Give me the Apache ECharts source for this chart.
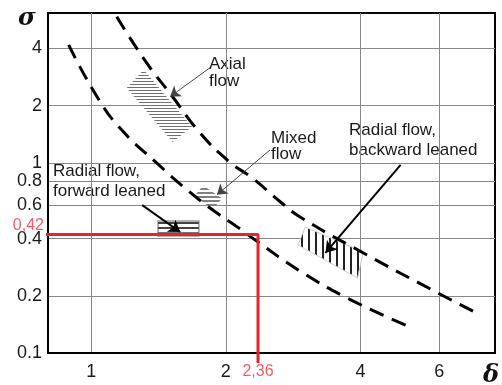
<!DOCTYPE html>
<html>
<head>
<meta charset="utf-8">
<script src="https://cdn.jsdelivr.net/npm/echarts@6/dist/echarts.min.js"></script>
<style>
  html, body { margin: 0; padding: 0; background: #fff; }
  #chart { width: 502px; height: 385px; }
</style>
</head>
<body>
<div id="chart"></div>
<script>
// tick values on both log axes
const xTicks = [1, 2, 4, 6]
const yTicks = [0.1, 0.2, 0.4, 0.6, 0.8, 1, 2, 4]

// dashed boundary curves [delta, sigma]
const upperBound = [[1.14, 5.87], [1.33, 3.36], [1.52, 2.23], [1.75, 1.44], [2.04, 1.01], [2.29, 0.834], [2.65, 0.623], [2.93, 0.52], [4.06, 0.336], [5.96, 0.207], [7.45, 0.158]]
const lowerBound = [[0.89, 4.18], [1.03, 2.23], [1.17, 1.49], [1.4, 1.0], [1.64, 0.72], [1.91, 0.545], [2.12, 0.461], [2.34, 0.389], [2.93, 0.27], [3.7, 0.197], [5.05, 0.14]]

// hatched zones (corners)
const axialZone = [[1.2, 2.48], [1.31, 3.09], [1.68, 1.55], [1.52, 1.29]]
const mixedZone = [[1.7, 0.67], [1.78, 0.76], [1.96, 0.65], [1.87, 0.57]]
const forwardZone = [[1.41, 0.495], [1.74, 0.495], [1.74, 0.413], [1.41, 0.413]]
const backwardZone = [[3.01, 0.46], [4.06, 0.34], [3.94, 0.248], [2.9, 0.37]]

// arrows from label to zone
const axialArrow = [[1.84, 3.16], [1.5, 2.23]]
const mixedArrow = [[2.51, 1.17], [1.91, 0.68]]
const forwardArrow = [[1.3, 0.6], [1.58, 0.433]]
const backwardArrow = [[4.92, 0.976], [3.34, 0.336]]

// design point
const markX = 2.36
const markY = 0.42

function stripes(w, h, color, vertical, lw) {
  const c = document.createElement('canvas')
  c.width = w
  c.height = h
  const ctx = c.getContext('2d')
  ctx.fillStyle = '#fff'
  ctx.fillRect(0, 0, w, h)
  ctx.fillStyle = color
  if (vertical) ctx.fillRect(0, 0, lw, h)
  else ctx.fillRect(0, 0, w, lw)
  return c
}

const zones = [
  { pts: axialZone, img: stripes(4, 3, '#707070', false, 1), stroke: null },
  { pts: mixedZone, img: stripes(4, 4, '#808080', false, 2), stroke: null },
  { pts: backwardZone, img: stripes(7, 4, '#222', true, 2), stroke: '#ccc' },
  { pts: forwardZone, img: null, stroke: '#999' }
]

const chart = echarts.init(document.getElementById('chart'))

const textStyle = { fontSize: 17, fontFamily: '"Liberation Sans", Arial, sans-serif', fill: '#1a1a1a' }

chart.setOption({
  animation: false,
  grid: {
    left: 48,
    right: 7,
    top: 13,
    bottom: 32,
    show: true,
    borderColor: '#000',
    borderWidth: 2,
    backgroundColor: 'transparent'
  },
  xAxis: {
    type: 'log',
    min: 0.8,
    max: 8,
    axisLine: { lineStyle: { color: '#000', width: 2 } },
    axisTick: { show: false, customValues: xTicks },
    axisLabel: { customValues: xTicks, fontSize: 18, color: '#1a1a1a', margin: 10, fontFamily: '"Liberation Sans", Arial' },
    splitLine: { show: true, lineStyle: { color: '#888', width: 1 } },
    minorSplitLine: { show: false }
  },
  yAxis: {
    type: 'log',
    min: 0.1,
    max: 6.15,
    axisLine: { show: true, lineStyle: { color: '#000', width: 2 } },
    axisTick: { show: false, customValues: yTicks },
    axisLabel: { customValues: yTicks, fontSize: 18, color: '#1a1a1a', margin: 6, fontFamily: '"Liberation Sans", Arial' },
    splitLine: { show: true, lineStyle: { color: '#888', width: 1 } }
  },
  graphic: [
    { type: 'text', left: 18, top: 7, style: { text: 'σ', fontSize: 24, fontStyle: 'italic', fontWeight: 'bold', fontFamily: '"DejaVu Serif", serif', fill: '#111' } },
    { type: 'text', left: 483, top: 364, style: { text: 'δ', fontSize: 24, fontStyle: 'italic', fontWeight: 'bold', fontFamily: '"DejaVu Serif", serif', fill: '#111' } },
    { type: 'text', left: 209, top: 56, style: Object.assign({ text: 'Axial\nflow', lineHeight: 17 }, textStyle) },
    { type: 'text', left: 271, top: 130, style: Object.assign({ text: 'Mixed\nflow', lineHeight: 16 }, textStyle) },
    { type: 'text', left: 349, top: 120, style: Object.assign({ text: 'Radial flow,\nbackward leaned', lineHeight: 20 }, textStyle) },
    { type: 'text', left: 53, top: 161, style: Object.assign({ text: 'Radial flow,\nforward leaned', lineHeight: 20 }, textStyle) }
  ],
  series: [
    {
      type: 'custom',
      coordinateSystem: 'cartesian2d',
      silent: true,
      z: 2,
      data: zones.map(z => z.pts[0]),
      renderItem: (params, api) => {
        const z = zones[params.dataIndex]
        const pts = z.pts.map(p => api.coord(p))
        if (!z.img) {
          // box with three horizontal bars
          const x0 = pts[0][0]
          const x1 = pts[1][0]
          const y0 = pts[0][1]
          const y1 = pts[2][1]
          const bars = [0.13, 0.47, 0.82].map(f => ({
            type: 'line',
            shape: { x1: x0, y1: y0 + (y1 - y0) * f, x2: x1, y2: y0 + (y1 - y0) * f },
            style: { stroke: '#444', lineWidth: 2 }
          }))
          return {
            type: 'group',
            children: [{ type: 'polygon', shape: { points: pts }, style: { fill: '#fff', stroke: z.stroke, lineWidth: 1.5 } }].concat(bars)
          }
        }
        return {
          type: 'polygon',
          shape: { points: pts },
          style: { fill: { image: z.img, repeat: 'repeat' }, stroke: z.stroke, lineWidth: 1 }
        }
      }
    },
    {
      type: 'line',
      data: upperBound,
      smooth: true,
      symbol: 'none',
      z: 3,
      lineStyle: { color: '#000', width: 3, type: [15, 9] }
    },
    {
      type: 'line',
      data: lowerBound,
      smooth: true,
      symbol: 'none',
      z: 3,
      lineStyle: { color: '#000', width: 3, type: [15, 9] }
    },
    {
      type: 'lines',
      coordinateSystem: 'cartesian2d',
      z: 5,
      symbol: ['none', 'arrow'],
      symbolSize: 10,
      lineStyle: { color: '#444', width: 1, opacity: 1 },
      data: [{ coords: axialArrow }, { coords: mixedArrow }]
    },
    {
      type: 'lines',
      coordinateSystem: 'cartesian2d',
      z: 5,
      symbol: ['none', 'arrow'],
      symbolSize: 11,
      lineStyle: { color: '#000', width: 2, opacity: 1 },
      data: [{ coords: forwardArrow }, { coords: backwardArrow }]
    },
    {
      type: 'line',
      clip: false,
      symbol: 'none',
      z: 6,
      lineStyle: { color: '#ea2230', width: 3 },
      data: [[0.776, markY], [markX, markY], [markX, 0.0886]]
    },
    {
      type: 'scatter',
      clip: false,
      symbolSize: 0,
      z: 6,
      label: {
        show: true,
        color: '#f0343f',
        fontSize: 16,
        fontFamily: '"Liberation Sans", Arial',
        formatter: p => p.data.text
      },
      data: [
        { value: [0.8, markY], text: '0,42', label: { position: 'left', distance: 4, offset: [0, -9] } },
        { value: [markX, 0.1], text: '2,36', label: { position: 'bottom', distance: 11 } }
      ]
    }
  ]
})
</script>
</body>
</html>
